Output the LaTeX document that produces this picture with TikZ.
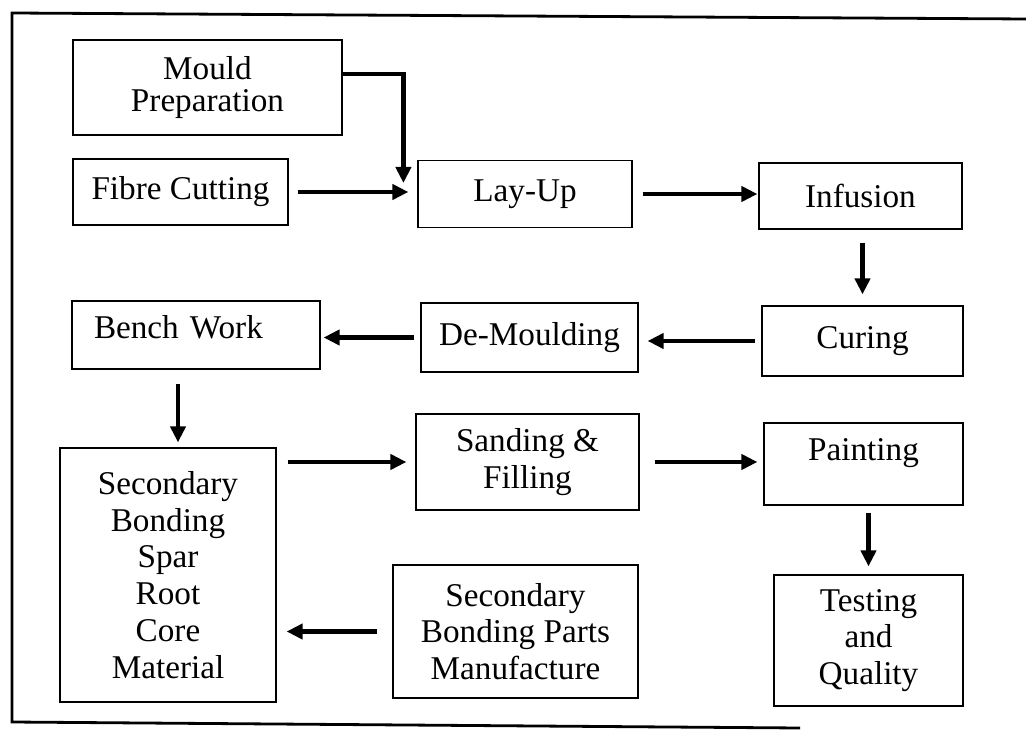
\documentclass[tikz,border=0pt]{standalone}
\usepackage{fontspec}
\setmainfont{Liberation Serif}
\usetikzlibrary{arrows.meta}
\usetikzlibrary{calc}

\tikzset{
  stage/.style={draw, line width=0.6pt, inner sep=1pt, align=center, font=\fontsize{16.6}{18.4}\selectfont},
  flow/.style={line width=2.3pt, -{Triangle[length=8pt,width=7.5pt]}},
}

\begin{document}
\begin{tikzpicture}[x=0.5pt,y=0.5pt,yscale=-1,xscale=1]
\useasboundingbox (0,0) rectangle (1026,731);

%Frame
\draw [line width=1.4pt] (1026,19) -- (12,13) -- (12,722) -- (800,728) ;

%Shape: Rectangle [mould]
\node [stage, minimum width=134.5pt, minimum height=47.5pt, font=\fontsize{16.6}{15.6}\selectfont] (mould) at (207.5,87.5) {Mould\\Preparation};
%Shape: Rectangle [fibre]
\node [stage, minimum width=107.5pt, minimum height=33pt] (fibre) at (180.5,192) {Fibre Cutting};
%Shape: Rectangle [layup]
\node [stage, minimum width=107pt, minimum height=33.5pt] (layup) at (525,194) {Lay-Up};
%Shape: Rectangle [infusion]
\node [stage, minimum width=101.5pt, minimum height=33pt] (infusion) at (860.5,196) {Infusion};
%Shape: Rectangle [curing]
\node [stage, minimum width=100.5pt, minimum height=35pt] (curing) at (862.5,341) {Curing};
%Shape: Rectangle [demould]
\node [stage, minimum width=108.5pt, minimum height=34.5pt] (demould) at (529.5,337.5) {De-Moulding};
%Shape: Rectangle [bench]
\node [stage, minimum width=124pt, text width=102pt, align=left, inner xsep=11pt, inner ysep=0pt, text height=19pt, text depth=15pt] (bench) at (196,335) {Bench Work};
%Shape: Rectangle [secbond]
\node [stage, minimum width=108pt, minimum height=127pt] (secbond) at (168,575) {Secondary\\Bonding\\Spar\\Root\\Core\\Material};
%Shape: Rectangle [sanding]
\node [stage, minimum width=111.5pt, minimum height=48pt] (sanding) at (527.5,462) {Sanding \&\\Filling};
%Shape: Rectangle [painting]
\node [stage, minimum width=99.5pt, inner ysep=0pt, text height=18.5pt, text depth=22.5pt] (painting) at (863.5,464) {Painting};
%Shape: Rectangle [parts]
\node [stage, minimum width=122.5pt, minimum height=66.5pt] (parts) at (515.5,631.5) {Secondary\\Bonding Parts\\Manufacture};
%Shape: Rectangle [testing]
\node [stage, minimum width=94.5pt, minimum height=65.5pt] (testing) at (868.5,640.5) {Testing\\and\\Quality};

%Arrows
\coordinate (mouldin) at ($(layup.west)+(-14,-11)$);
\coordinate (benchout) at ($(bench.south)+(-18,0)$);
\draw [flow] ($(mould.east)+(0,-13.5)$) -| (mouldin) ;
\draw [flow, shorten <=4.5pt, shorten >=4.5pt] (fibre.east) -- (fibre.east -| layup.west) ;
\draw [flow, shorten <=5pt, shorten >=0.5pt] (layup.east) -- (layup.east -| infusion.west) ;
\draw [flow, shorten <=6.5pt, shorten >=5.5pt] (infusion.south -| curing.north) -- (curing.north) ;
\draw [flow, shorten <=3pt, shorten >=4.5pt] (curing.west) -- (curing.west -| demould.east) ;
\draw [flow, shorten <=3pt, shorten >=1.5pt] (demould.west) -- (demould.west -| bench.east) ;
\draw [flow, shorten <=7pt, shorten >=2.5pt] (benchout) -- (benchout |- secbond.north) ;
\draw [flow, shorten <=5.5pt, shorten >=4.5pt] (secbond.east |- sanding.west) -- (sanding.west) ;
\draw [flow, shorten <=7.5pt, shorten >=3pt] (sanding.east) -- (sanding.east -| painting.west) ;
\draw [flow, shorten <=3.5pt, shorten >=4pt] (testing.north |- painting.south) -- (testing.north) ;
\draw [flow, shorten <=7.5pt, shorten >=5pt] (parts.west) -- (parts.west -| secbond.east) ;

\end{tikzpicture}
\end{document}
